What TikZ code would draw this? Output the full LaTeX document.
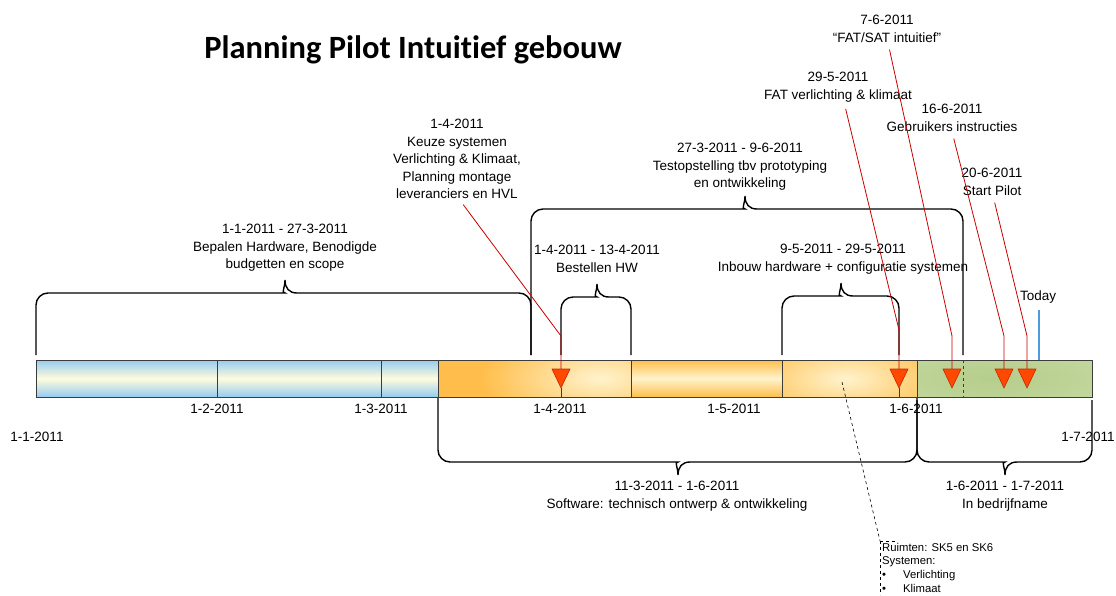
\documentclass[tikz,border=0pt]{standalone}
\usepackage{fontspec}
\setmainfont{Liberation Sans}
\newfontfamily\titlefont[Ligatures={NoCommon}]{Carlito}
\usetikzlibrary{calc}
\definecolor{blueC}{RGB}{150,203,240}
\definecolor{paleY}{RGB}{255,252,222}
\definecolor{orgC}{RGB}{255,190,75}
\definecolor{orgL}{RGB}{255,243,205}
\definecolor{grnC}{RGB}{181,205,140}
\definecolor{grnL}{RGB}{202,221,166}
\definecolor{triF}{RGB}{255,72,0}
\definecolor{triD}{RGB}{200,40,0}
\definecolor{redL}{RGB}{200,0,0}
\definecolor{todayC}{RGB}{80,155,220}
\definecolor{barD}{RGB}{60,60,60}
\newcommand\tbrace[5]{%
  \draw[bracestyle] (#1,#5) [rounded corners=12] -- (#1,#4) -- (#3-12,#4) [sharp corners]
    .. controls (#3-4,#4) and (#3,#4-5) .. (#3,#4-13)
    .. controls (#3,#4-5) and (#3+4,#4) .. (#3+12,#4) [rounded corners=12] -- (#2,#4) -- (#2,#5);}
\newcommand\bbrace[5]{%
  \draw[bracestyle] (#1,#5) [rounded corners=12] -- (#1,#4) -- (#3-12,#4) [sharp corners]
    .. controls (#3-4,#4) and (#3,#4+5) .. (#3,#4+13)
    .. controls (#3,#4+5) and (#3+4,#4) .. (#3+12,#4) [rounded corners=12] -- (#2,#4) -- (#2,#5);}
\begin{document}
\begin{tikzpicture}[x=1pt,y=-1pt,
  lbl/.style={font=\fontsize{13.5}{17.5}\selectfont, align=center, inner sep=0pt},
  small/.style={font=\fontsize{11.3}{13.6}\selectfont, align=left, inner sep=2pt},
  bracestyle/.style={draw=black, line width=1.4pt},
  redline/.style={draw=redL, line width=0.8pt, shorten <=7pt},
  tri/.style={fill=triF, draw=triD, line width=0.6pt},
  barline/.style={draw=barD, line width=0.8pt}]
\useasboundingbox (0,0) rectangle (1116,595);

% title
\node[font=\titlefont\bfseries\fontsize{32.5}{38}\selectfont, inner sep=0pt] (title) at (413,50) {Planning Pilot Intuitief gebouw};

% bar segments
\shade[top color=blueC, bottom color=blueC, middle color=paleY] (36,360) rectangle (438,397);
\begin{scope}
  \clip (438,360) rectangle (631,397);
  \fill[orgC] (438,360) rectangle (631,397);
  \shade[inner color=orgL, outer color=orgC] (600,378) ellipse (120 and 48);
\end{scope}
\shade[top color=orgC, bottom color=orgC, middle color=orgL] (631,360) rectangle (782,397);
\begin{scope}
  \clip (782,360) rectangle (917,397);
  \fill[orgC] (782,360) rectangle (917,397);
  \shade[inner color=orgL, outer color=orgC] (845,379) ellipse (110 and 44);
\end{scope}
\begin{scope}
  \clip (917,360) rectangle (1092,397);
  \fill[grnL] (917,360) rectangle (1092,397);
  \shade[inner color=grnC, outer color=grnL] (995,378) ellipse (190 and 50);
\end{scope}
\draw[barline] (36,360) rectangle (1092,397);
\foreach \x in {217,381,438,631,782,917} \draw[barline] (\x,360) -- (\x,397);
\draw[barline, dashed] (963,360) -- (963,397);
\draw[barline] (561,388) -- (561,397);
\draw[barline] (899,388) -- (899,397);

% date labels
\node[lbl] (d1) at (37,437) {1-1-2011};
\node[lbl] (d2) at (217,409) {1-2-2011};
\node[lbl] (d3) at (381,409) {1-3-2011};
\node[lbl] (d4) at (560,409) {1-4-2011};
\node[lbl] (d5) at (734,409) {1-5-2011};
\node[lbl] (d6) at (916,409) {1-6-2011};
\node[lbl] (d7) at (1088,437) {1-7-2011};

% braces above
\tbrace{36}{531}{285}{293}{355}
\tbrace{531}{963}{745}{209}{355}
\tbrace{561}{631}{597}{297}{355}
\tbrace{782}{899}{841}{296}{355}
% braces below
\bbrace{438}{917}{678}{462}{398}
\bbrace{917}{1092}{1005}{462}{400}

% brace labels
\node[lbl] (Lhw) at (285,248) {1-1-2011 - 27-3-2011\\Bepalen Hardware, Benodigde\\budgetten en scope};
\node[lbl] (Ltest) at (740,167) {27-3-2011 - 9-6-2011\\Testopstelling tbv prototyping\\en ontwikkeling};
\node[lbl] (Lbest) at (597,259) {1-4-2011 - 13-4-2011\\Bestellen HW};
\node[lbl] (Linb) at (843,259) {9-5-2011 - 29-5-2011\\Inbouw hardware + configuratie systemen};
\node[lbl] (Lsw) at (677,496) {11-3-2011 - 1-6-2011\\Software: technisch ontwerp \& ontwikkeling};
\node[lbl] (Lbed) at (1005,496) {1-6-2011 - 1-7-2011\\In bedrijfname};

% milestone labels
\node[lbl] (Lkeuze) at (457,159) {1-4-2011\\Keuze systemen\\Verlichting \& Klimaat,\\Planning montage\\leveranciers en HVL};
\node[lbl] (Lfat) at (838,87) {29-5-2011\\FAT verlichting \& klimaat};
\node[lbl] (Lsat) at (887,29) {7-6-2011\\“FAT/SAT intuitief”};
\node[lbl] (Lgeb) at (952,118) {16-6-2011\\Gebruikers instructies};
\node[lbl] (Lstart) at (992,182) {20-6-2011\\Start Pilot};
\node[lbl] (Ltoday) at (1038,297) {Today};

% milestone markers
\coordinate (T1) at (561,369);
\coordinate (T2) at (899,369);
\coordinate (T3) at (952,369);
\coordinate (T4) at (1004,369);
\coordinate (T5) at (1027,369);
\draw[redline] ([xshift=2pt]Lkeuze.south) -- ($(T1)+(0,-33)$) -- (T1);
\draw[redline] ([xshift=6pt]Lfat.south) -- ($(T2)+(0,-39)$) -- (T2);
\draw[redline] ([xshift=1pt]Lsat.south) -- ($(T3)+(0,-33)$) -- (T3);
\draw[redline] (Lgeb.south) -- ($(T4)+(0,-33)$) -- (T4);
\draw[redline] ([xshift=1pt]Lstart.south) -- ($(T5)+(0,-33)$) -- (T5);
\foreach \t in {T1,T2,T3,T4,T5}
  \draw[tri] (\t) ++(-9,0) -- ++(18,0) -- ++(-9,19) -- cycle;

% today
\coordinate (tdy) at (1039,360);
\draw[draw=todayC, line width=1.2pt, shorten <=7pt] (Ltoday.south -| tdy) -- (tdy);

% callout
\node[small, anchor=north west] (Lcall) at (880,541) {Ruimten: SK5 en SK6\\Systemen:\\\textbullet\hspace{17pt}Verlichting\\\textbullet\hspace{17pt}Klimaat};
\coordinate (cs) at (842,382);
\draw[dashed, line width=0.6pt] (cs) -- (Lcall.north west);
\draw[dashed, line width=0.6pt] (Lcall.north west) -- ++(15,0);
\draw[dashed, line width=0.6pt] (Lcall.north west) -- (Lcall.north west |- 0,595);
\end{tikzpicture}
\end{document}
